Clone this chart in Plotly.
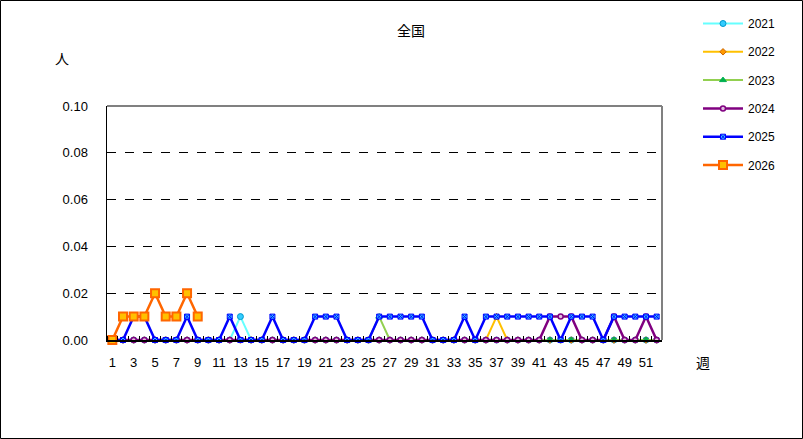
import plotly.graph_objects as go

weeks = list(range(1, 53))

v2021 = [0]*12 + [0.01] + [0]*39
v2022 = [0]*36 + [0.01] + [0]*15
v2023 = [0]*25 + [0.01] + [0]*26
v2024 = [0]*41 + [0.01, 0.01, 0.01, 0, 0, 0, 0.01, 0, 0, 0.01, 0]
v2025 = [0, 0, 0.01, 0.01, 0, 0, 0, 0.01, 0, 0,
         0, 0.01, 0, 0, 0, 0.01, 0, 0, 0, 0.01,
         0.01, 0.01, 0, 0, 0, 0.01, 0.01, 0.01, 0.01, 0.01,
         0, 0, 0, 0.01, 0, 0.01, 0.01, 0.01, 0.01, 0.01,
         0.01, 0.01, 0, 0.01, 0.01, 0.01, 0, 0.01, 0.01, 0.01,
         0.01, 0.01]
v2026 = [0, 0.01, 0.01, 0.01, 0.02, 0.01, 0.01, 0.02, 0.01]

y_ticks = [0, 0.02, 0.04, 0.06, 0.08, 0.10]
x_ticks = list(range(1, 53, 2))

series = [
    ("2021", v2021, dict(color="#66FFFF", width=2), dict(symbol="circle", size=6, color="#33CCFF", line=dict(color="#0099CC", width=1))),
    ("2022", v2022, dict(color="#FFC000", width=2), dict(symbol="diamond", size=5, color="#FF9900", line=dict(color="#CC6600", width=1))),
    ("2023", v2023, dict(color="#92D050", width=2), dict(symbol="triangle-up", size=6, color="#00B050", line=dict(color="#00B050", width=1))),
    ("2024", v2024, dict(color="#800080", width=2.5), dict(symbol="circle", size=5, color="#E0C0E0", line=dict(color="#800080", width=1.5))),
    ("2025", v2025, dict(color="#0000FF", width=2.5), dict(symbol="square-x", size=5, color="#33CCFF", line=dict(color="#0000FF", width=1))),
    ("2026", v2026, dict(color="#FF6600", width=2.5), dict(symbol="square", size=8, color="#FFC000", line=dict(color="#FF6600", width=2))),
]

fig = go.Figure()
for name, vals, line, marker in series:
    fig.add_trace(go.Scatter(
        x=weeks[:len(vals)], y=vals, name=name, mode="lines+markers",
        line=line, marker=marker, legendgroup=name, cliponaxis=False,
        hoverinfo="skip",
    ))

L, R, T, B = 107, 141, 106, 99
W, H = 803, 439
pw, ph = W - L - R, H - T - B

font = "Liberation Sans, Arial, sans-serif"
cjk = "Noto Sans CJK JP, sans-serif"

def ann(text, px, py, size=14):
    return dict(text=text, xref="paper", yref="paper", x=(px - L) / pw, y=(ph + T - py) / ph,
                xanchor="center", yanchor="middle", showarrow=False,
                font=dict(family=cjk, size=size))

fig.update_layout(
    width=W, height=H,
    margin=dict(l=L, r=R, t=T, b=B, autoexpand=False),
    paper_bgcolor="white", plot_bgcolor="white",
    font=dict(family=font, size=13, color="black"),
    showlegend=True,
    legend=dict(x=(698 - L) / pw, y=(ph + T - 9) / ph, xanchor="left", yanchor="top",
                font=dict(family=font, size=12), tracegroupgap=9.3,
                bgcolor="rgba(0,0,0,0)", itemwidth=40),
    xaxis=dict(range=[0.5, 52.5], tickmode="array", tickvals=x_ticks,
               ticktext=[str(v) for v in x_ticks], ticks="", showgrid=False,
               showline=True, linecolor="black", linewidth=1.5, zeroline=False,
               ticklabelstandoff=10, tickfont=dict(size=13),
               minor=dict(tick0=0.5, dtick=1, ticks="inside", ticklen=4, tickcolor="black", tickwidth=1, showgrid=False)),
    yaxis=dict(range=[0, 0.10], tickmode="array", tickvals=y_ticks,
               ticktext=["%.2f" % v for v in y_ticks],
               ticks="inside", ticklen=4, tickcolor="black",
               showgrid=True, gridcolor="black", gridwidth=1, griddash="dash",
               showline=True, linecolor="black", linewidth=1.5, zeroline=False,
               ticklabelstandoff=15, tickfont=dict(size=13)),
    shapes=[
        dict(type="line", xref="paper", yref="paper", x0=0, x1=1, y0=1, y1=1, line=dict(color="#808080", width=2)),
        dict(type="line", xref="paper", yref="paper", x0=1, x1=1, y0=0, y1=1, line=dict(color="#808080", width=2)),
        dict(type="rect", xref="paper", yref="paper",
             x0=(0.5 - L) / pw, x1=(802.5 - L) / pw,
             y0=(ph + T - 438.5) / ph, y1=(ph + T - 0.5) / ph,
             line=dict(color="black", width=1)),
    ],
    annotations=[
        ann("全国", 411, 30),
        ann("人", 62, 58),
        ann("週", 703, 362),
    ],
)
fig.write_html("out.html", config={"displayModeBar": False, "staticPlot": True},
               post_script="document.body.style.margin='0';document.body.style.padding='0';"
                           "document.documentElement.style.overflow='hidden';")
